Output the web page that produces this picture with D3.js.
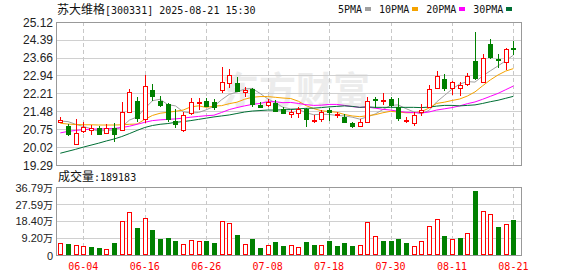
<!DOCTYPE html>
<html>
<head>
<meta charset="utf-8">
<script src="https://cdn.jsdelivr.net/npm/d3@7"></script>
<style>
body{margin:0;background:#fff}
svg{display:block}
</style>
</head>
<body>
<div id="chart"></div>
<script>
// trading days shown in the chart
const dates=['05-29','05-30','06-03','06-04','06-05','06-06','06-09','06-10','06-11','06-12',
  '06-13','06-16','06-17','06-18','06-19','06-20','06-23','06-24','06-25','06-26',
  '06-27','06-30','07-01','07-02','07-03','07-04','07-07','07-08','07-09','07-10',
  '07-11','07-14','07-15','07-16','07-17','07-18','07-21','07-22','07-23','07-24',
  '07-25','07-28','07-29','07-30','07-31','08-01','08-04','08-05','08-06','08-07',
  '08-08','08-11','08-12','08-13','08-14','08-15','08-18','08-19','08-20','08-21'];

const open=[21.03,20.88,20.13,20.66,20.72,20.80,20.58,20.79,20.72,21.46,
  21.89,21.15,22.35,21.89,21.76,21.08,20.72,21.40,21.83,21.89,
  21.86,22.35,22.65,22.65,22.28,22.37,21.74,21.74,21.83,21.56,
  21.37,21.40,21.56,21.08,21.15,21.53,21.31,21.26,20.99,20.88,
  21.06,21.98,21.89,21.98,21.67,21.08,20.99,21.47,21.67,22.42,
  22.80,22.42,22.44,22.59,23.53,22.69,24.22,23.60,23.50,24.05];
const high=[21.26,20.95,21.15,21.03,20.91,20.89,20.96,20.99,21.86,22.40,
  22.05,22.96,22.59,22.10,21.83,21.59,21.46,22.01,22.01,22.04,
  21.98,23.27,23.20,22.89,22.46,22.42,21.87,21.97,21.94,21.67,
  21.53,21.67,21.60,21.33,21.53,21.60,21.46,21.37,21.06,21.15,
  22.05,22.08,22.24,22.08,22.01,21.26,21.44,21.76,22.55,23.12,
  22.99,22.72,22.69,23.03,24.70,23.80,24.43,23.80,24.05,24.35];
const low=[20.99,20.47,20.11,20.61,20.50,20.50,20.55,20.24,20.69,21.46,
  21.06,20.99,21.91,21.64,21.06,20.79,20.65,21.33,21.53,21.64,
  21.53,22.21,22.42,22.25,22.05,21.67,21.60,21.67,21.46,21.37,
  21.19,21.22,20.85,21.02,21.06,21.10,21.22,20.99,20.79,20.88,
  20.99,21.60,21.74,21.67,21.08,20.99,20.88,21.30,21.60,22.42,
  22.32,22.14,22.12,22.51,22.76,22.69,23.60,23.23,23.16,23.78];
const close=[21.12,20.55,20.58,20.83,20.80,20.55,20.81,20.55,21.46,22.25,
  21.19,22.52,22.12,21.75,21.15,20.96,21.33,21.85,21.87,21.70,
  21.67,22.66,22.96,22.32,22.35,21.76,21.67,21.87,21.50,21.40,
  21.46,21.56,21.18,21.12,21.46,21.44,21.36,21.06,20.88,21.06,
  21.91,21.94,21.92,21.74,21.19,21.12,21.33,21.53,22.38,22.92,
  22.42,22.66,22.55,22.92,22.82,23.64,23.71,23.56,24.02,24.00];
const volume=[63000,59200,52200,48500,43100,37700,30700,64600,183000,230000,
  145400,197700,134700,86200,91600,75400,57600,80000,75400,75400,
  64600,184000,170700,107700,57600,86200,37700,52200,70000,48500,
  52200,41300,70000,53900,52200,75400,48500,64600,48500,52200,
  176100,100700,75400,75400,86200,64600,48500,75400,156200,192300,
  102300,84600,91600,116900,344700,237000,220800,150800,167000,189183];

// moving averages as drawn
const ma5=[21.08,21.06,20.95,20.86,20.77,20.66,20.71,20.71,20.84,21.12,
  21.25,21.59,21.91,21.97,21.75,21.70,21.46,21.41,21.43,21.54,
  21.68,21.95,22.17,22.26,22.39,22.41,22.21,21.99,21.83,21.64,
  21.58,21.56,21.42,21.34,21.36,21.35,21.31,21.29,21.24,21.16,
  21.25,21.37,21.55,21.72,21.74,21.59,21.46,21.38,21.51,21.86,
  22.12,22.38,22.59,22.69,22.67,22.92,23.13,23.33,23.54,23.77];
const ma10=[20.99,20.96,20.94,20.93,20.93,20.92,20.92,20.92,20.93,20.95,
  20.96,21.15,21.31,21.40,21.44,21.48,21.53,21.66,21.70,21.64,
  21.69,21.71,21.79,21.85,21.97,22.05,22.08,22.08,22.05,22.02,
  22.00,21.89,21.71,21.59,21.50,21.47,21.44,21.35,21.29,21.26,
  21.30,21.34,21.42,21.48,21.45,21.42,21.42,21.46,21.61,21.80,
  21.85,21.92,21.98,22.10,22.27,22.52,22.76,22.96,23.12,23.22];
const ma20=[20.60,20.66,20.70,20.73,20.75,20.76,20.77,20.78,20.82,20.87,
  20.95,21.03,21.10,21.13,21.15,21.17,21.20,21.24,21.27,21.30,
  21.32,21.43,21.55,21.63,21.70,21.76,21.80,21.87,21.87,21.83,
  21.84,21.80,21.75,21.72,21.73,21.76,21.76,21.72,21.67,21.64,
  21.65,21.61,21.56,21.53,21.48,21.44,21.43,21.41,21.45,21.53,
  21.58,21.63,21.70,21.79,21.86,21.97,22.09,22.21,22.36,22.51];
const ma30=[19.77,19.85,19.93,20.02,20.10,20.18,20.27,20.35,20.45,20.57,
  20.70,20.82,20.90,20.95,20.98,21.03,21.06,21.10,21.15,21.20,
  21.25,21.29,21.33,21.39,21.45,21.49,21.51,21.53,21.53,21.54,
  21.55,21.58,21.60,21.61,21.63,21.66,21.68,21.70,21.68,21.64,
  21.66,21.64,21.64,21.64,21.64,21.64,21.64,21.63,21.65,21.69,
  21.72,21.72,21.70,21.72,21.74,21.80,21.87,21.93,22.01,22.09];

const priceTicks=[25.12,24.39,23.66,22.94,22.21,21.48,20.75,20.02,19.29];
const volTicks=[0,92000,184000,275900,367900];
const dateTicks=['06-04','06-16','06-26','07-08','07-18','07-30','08-11','08-21'];
const maNames=['5PMA','10PMA','20PMA','30PMA'];
const maColors=['#a0a0a0','#f5a300','#ff00ff','#006f35'];

const stockName='苏大维格';
const titleRest='[300331] 2025-08-21 15:30';

const W=578,H=276;
const L=56,R=522,T=22,B=165,VT=187,VB=255;
const UP='#ff0000',DOWN='#008000';
const mono='"DejaVu Sans Mono", monospace';
const cjk='"Noto Sans CJK SC", sans-serif';

const svg=d3.select('#chart').append('svg')
  .attr('width',W).attr('height',H)
  .style('font-family','"Liberation Sans", Arial, sans-serif');

const x=d3.scalePoint().domain(dates).range([60.3,513.4]);
const y=d3.scaleLinear().domain([19.29,25.12]).range([B,T]);
const yv=d3.scaleLinear().domain([0,367900]).range([VB,VT]);
const px=v=>Math.round(v)+0.5;

// watermark
svg.append('text')
  .attr('x',222).attr('y',104)
  .attr('font-family',cjk).attr('font-size',37).attr('font-weight',700)
  .attr('fill','#ececec')
  .text('东方财富');

// horizontal grid (main)
svg.append('g').selectAll('line').data(priceTicks.slice(1,-1)).join('line')
  .attr('x1',L).attr('x2',R)
  .attr('y1',d=>px(y(d))).attr('y2',d=>px(y(d)))
  .attr('stroke','#d0d0d0');
// horizontal grid (volume)
svg.append('g').selectAll('line').data(volTicks.slice(1,-1)).join('line')
  .attr('x1',L).attr('x2',R)
  .attr('y1',d=>px(yv(d))).attr('y2',d=>px(yv(d)))
  .attr('stroke','#d0d0d0');

// dashed verticals at date labels
const vg=svg.append('g').attr('stroke','#c8c8c8').attr('stroke-dasharray','4,3');
dateTicks.forEach(d=>{
  vg.append('line').attr('x1',px(x(d))).attr('x2',px(x(d))).attr('y1',T).attr('y2',B);
  vg.append('line').attr('x1',px(x(d))).attr('x2',px(x(d))).attr('y1',VT).attr('y2',VB);
});

// frames
[[T,B],[VT,VB]].forEach(([t,b])=>{
  svg.append('rect').attr('x',L+0.5).attr('y',t+0.5)
    .attr('width',R-L-1).attr('height',b-t)
    .attr('fill','none').attr('stroke','#999');
});

// axis labels
svg.append('g').selectAll('text').data(priceTicks).join('text')
  .attr('x',53).attr('y',d=>y(d)+4.5)
  .attr('text-anchor','end').attr('font-size',12).attr('fill','#222')
  .text(d=>d.toFixed(2));

const vl=svg.append('g').selectAll('text').data(volTicks).join('text')
  .attr('x',53).attr('y',d=>yv(d)+4.5)
  .attr('text-anchor','end').attr('font-size',11).attr('fill','#222');
vl.each(function(d){
  const t=d3.select(this);
  if(d===0){t.text('0');return;}
  t.append('tspan').text((d/10000).toFixed(2));
  t.append('tspan').attr('font-family',cjk).attr('font-size',10).text('万');
});

svg.append('g').selectAll('text').data(dateTicks).join('text')
  .attr('x',d=>x(d)).attr('y',270)
  .attr('text-anchor','middle').attr('font-family',mono).attr('font-size',10)
  .attr('fill','#ff0000')
  .text(d=>d);

// title
const title=svg.append('text').attr('x',57).attr('y',14).attr('fill','#111');
title.append('tspan').attr('font-family',cjk).attr('font-size',12).text(stockName);
title.append('tspan').attr('font-family',mono).attr('font-size',10).text(titleRest);

// legend
let lx=338;
maNames.forEach((n,i)=>{
  svg.append('text').attr('x',lx).attr('y',13)
    .attr('font-family',mono).attr('font-size',10).attr('fill','#111').text(n);
  lx+=n.length*6.02;
  svg.append('rect').attr('x',Math.round(lx+3)).attr('y',7).attr('width',6).attr('height',4)
    .attr('fill',maColors[i]);
  lx+=17;
});

// volume title
const vt=svg.append('text').attr('x',58).attr('y',181).attr('fill','#111');
vt.append('tspan').attr('font-family',cjk).attr('font-size',12).text('成交量');
vt.append('tspan').attr('font-family',mono).attr('font-size',10).text(':'+volume[volume.length-1]);

// moving average lines
const maSeries=[ma5,ma10,ma20,ma30];
maSeries.forEach((s,k)=>{
  const line=d3.line().x((d,i)=>x(dates[i])).y(d=>y(d));
  svg.append('path').datum(s).attr('d',line)
    .attr('fill','none').attr('stroke',maColors[k]).attr('stroke-width',1);
});

// candles
const cg=svg.append('g').attr('shape-rendering','crispEdges');
dates.forEach((d,i)=>{
  const cx=Math.round(x(d));
  const up=close[i]>=open[i];
  const col=up?UP:DOWN;
  cg.append('line').attr('x1',cx+0.5).attr('x2',cx+0.5)
    .attr('y1',Math.round(y(high[i]))).attr('y2',Math.round(y(low[i])))
    .attr('stroke',col);
  const top=Math.round(y(Math.max(open[i],close[i])));
  const bot=Math.round(y(Math.min(open[i],close[i])));
  if(bot-top<1){
    cg.append('line').attr('x1',cx-2).attr('x2',cx+3)
      .attr('y1',top+0.5).attr('y2',top+0.5).attr('stroke',col);
  }else if(up){
    cg.append('rect').attr('x',cx-1.5).attr('y',top+0.5)
      .attr('width',4).attr('height',bot-top)
      .attr('fill','#fff').attr('stroke',col);
  }else{
    cg.append('rect').attr('x',cx-2).attr('y',top)
      .attr('width',5).attr('height',bot-top+1).attr('fill',col);
  }
});

// volume bars, coloured by change from previous close
const bg=svg.append('g').attr('shape-rendering','crispEdges');
dates.forEach((d,i)=>{
  const cx=Math.round(x(d));
  const up=i===0?true:close[i]>=close[i-1];
  const top=Math.round(yv(volume[i]));
  if(up){
    bg.append('rect').attr('x',cx-1.5).attr('y',top+0.5)
      .attr('width',4).attr('height',VB-top-1)
      .attr('fill','#fff').attr('stroke',UP);
  }else{
    bg.append('rect').attr('x',cx-2).attr('y',top)
      .attr('width',5).attr('height',VB-top).attr('fill',DOWN);
  }
});
</script>
</body>
</html>
